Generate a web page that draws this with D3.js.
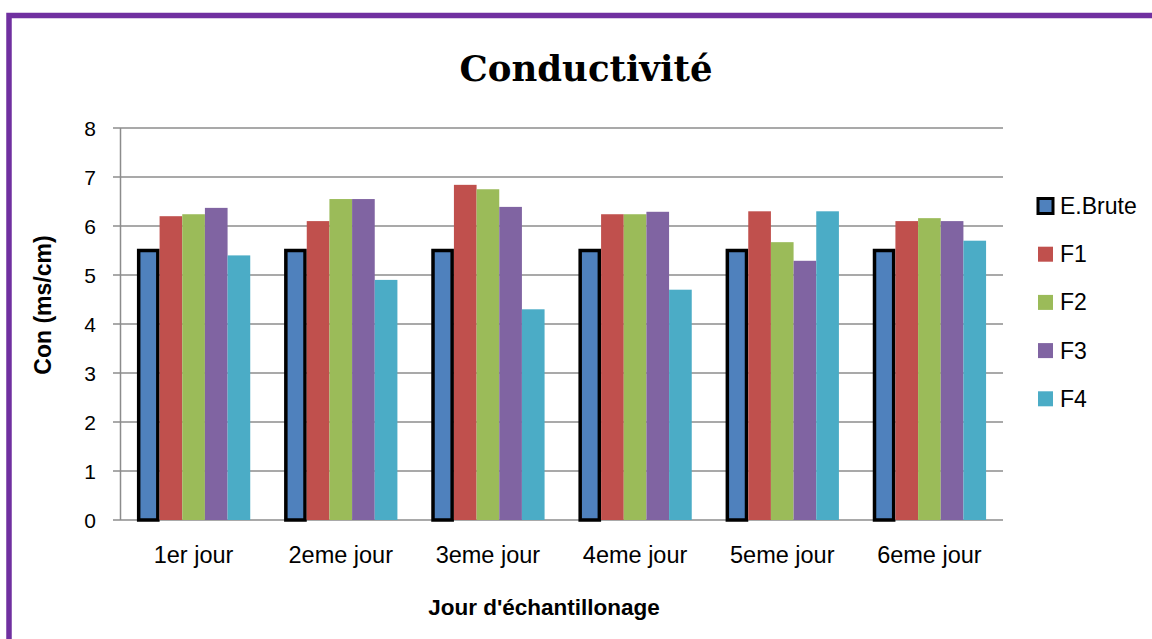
<!DOCTYPE html>
<html>
<head>
<meta charset="utf-8">
<script src="https://cdn.jsdelivr.net/npm/d3@7"></script>
<style>
  html, body { margin: 0; padding: 0; background: #fff; }
  svg { display: block; }
</style>
</head>
<body>
<svg id="chart" width="1152" height="639"></svg>
<script>
const categories = ["1er jour", "2eme jour", "3eme jour", "4eme jour", "5eme jour", "6eme jour"];
const seriesNames = ["E.Brute", "F1", "F2", "F3", "F4"];
const eBrute = [5.5, 5.5, 5.5, 5.5, 5.5, 5.5];
const f1 = [6.2, 6.1, 6.84, 6.24, 6.3, 6.1];
const f2 = [6.24, 6.55, 6.75, 6.24, 5.67, 6.16];
const f3 = [6.37, 6.55, 6.39, 6.29, 5.29, 6.1];
const f4 = [5.4, 4.9, 4.3, 4.7, 6.3, 5.7];
const yTicks = [0, 1, 2, 3, 4, 5, 6, 7, 8];
const colors = ["#4F81BD", "#C0504D", "#9BBB59", "#8064A2", "#4BACC6"];
const titleText = "Conductivité";
const yTitle = "Con (ms/cm)";
const xTitle = "Jour d'échantillonage";

const seriesValues = [eBrute, f1, f2, f3, f4];
const svg = d3.select("#chart");

// outer purple frame
svg.append("rect").attr("x", 9).attr("y", 15.5).attr("width", 1200).attr("height", 700)
  .attr("fill", "#fff").attr("stroke", "#7030A0").attr("stroke-width", 5.5);

const plot = { left: 120, right: 1003, top: 128, bottom: 520 };
const x0 = d3.scaleBand().domain(categories).range([plot.left, plot.right])
  .paddingInner(0.23).paddingOuter(0.115);
const x1 = d3.scaleBand().domain(seriesNames).range([0, x0.bandwidth()]).padding(0);
const y = d3.scaleLinear().domain([0, 8]).range([plot.bottom, plot.top]);

const sans = "'Liberation Sans', Arial, sans-serif";

// gridlines (with tick stubs)
svg.append("g").selectAll("line").data(yTicks).join("line")
  .attr("x1", plot.left - 7).attr("x2", plot.right)
  .attr("y1", d => y(d)).attr("y2", d => y(d))
  .attr("stroke", "#8c8c8c").attr("stroke-width", 1.5);

// y axis line
svg.append("line").attr("x1", plot.left + 0.5).attr("x2", plot.left + 0.5)
  .attr("y1", y(8)).attr("y2", y(0)).attr("stroke", "#8c8c8c").attr("stroke-width", 1.5);

// y tick labels
svg.append("g").selectAll("text").data(yTicks).join("text")
  .attr("x", 96).attr("y", d => y(d) + 8)
  .attr("text-anchor", "end").attr("font-family", sans).attr("font-size", 21)
  .attr("fill", "#000").text(d => d);

// bars
const groups = svg.append("g").selectAll("g").data(categories).join("g")
  .attr("transform", d => `translate(${x0(d)},0)`);
groups.each(function(cat, ci) {
  const g = d3.select(this);
  seriesNames.forEach((s, si) => {
    const v = seriesValues[si][ci];
    const r = g.append("rect")
      .attr("x", x1(s)).attr("width", x1.bandwidth())
      .attr("y", y(v)).attr("height", y(0) - y(v))
      .attr("fill", colors[si]);
    if (si === 0) {
      r.attr("x", x1(s) + 1.75).attr("width", x1.bandwidth() - 3.5)
        .attr("stroke", "#000").attr("stroke-width", 3.5);
    }
  });
});

// category labels
svg.append("g").selectAll("text").data(categories).join("text")
  .attr("x", d => x0(d) + x0.bandwidth() / 2).attr("y", 563)
  .attr("text-anchor", "middle").attr("font-family", sans).attr("font-size", 23.5)
  .attr("fill", "#000").text(d => d);

// title
svg.append("text").attr("x", 586).attr("y", 81).attr("text-anchor", "middle")
  .attr("font-family", "'DejaVu Serif', serif").attr("font-weight", "bold")
  .attr("font-size", 35.5).attr("fill", "#000").text(titleText);

// axis titles
svg.append("text").attr("transform", "translate(51,305) rotate(-90)")
  .attr("text-anchor", "middle").attr("font-family", sans).attr("font-weight", "bold")
  .attr("font-size", 23).attr("fill", "#000").text(yTitle);
svg.append("text").attr("x", 544).attr("y", 615).attr("text-anchor", "middle")
  .attr("font-family", sans).attr("font-weight", "bold")
  .attr("font-size", 22.5).attr("fill", "#000").text(xTitle);

// legend
const legend = svg.append("g").selectAll("g").data(seriesNames).join("g")
  .attr("transform", (d, i) => `translate(1038, ${206 + i * 48.2})`);
legend.append("rect").attr("x", 0).attr("y", -7.5).attr("width", 15).attr("height", 15)
  .attr("fill", (d, i) => colors[i])
  .attr("stroke", (d, i) => i === 0 ? "#000" : "none").attr("stroke-width", 3);
legend.append("text").attr("x", 22).attr("y", 8)
  .attr("font-family", sans).attr("font-size", 23).attr("fill", "#000").text(d => d);
</script>
</body>
</html>
